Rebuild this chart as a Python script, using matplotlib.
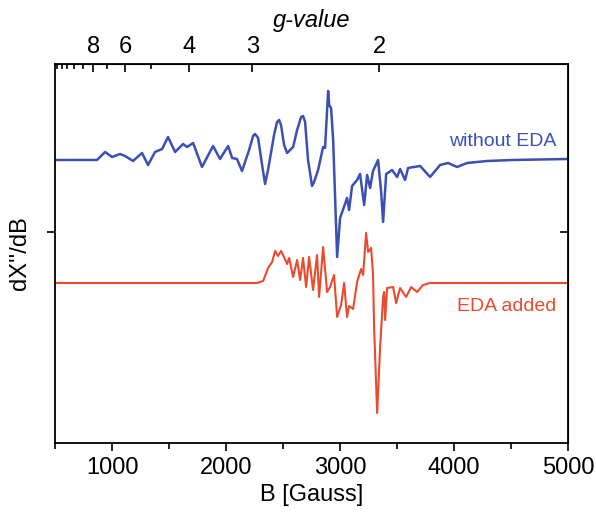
import numpy as np
import matplotlib
matplotlib.use("Agg")
import matplotlib.pyplot as plt
from matplotlib.ticker import FixedLocator, NullFormatter

plt.rcParams['font.family'] = ['Liberation Sans', 'DejaVu Sans']

# field values (Gauss) and signal (arb. units)
b_blue = [500, 868, 939, 1000, 1070, 1114, 1184, 1263, 1316, 1377, 1439, 1491,
          1553, 1623, 1658, 1711, 1789, 1886, 1947, 2018, 2053, 2096, 2140, 2202,
          2237, 2254, 2281, 2316, 2342, 2368, 2421, 2447, 2465, 2482, 2509, 2535,
          2588, 2623, 2658, 2675, 2693, 2719, 2754, 2772, 2807, 2851, 2868, 2895,
          2904, 2921, 2939, 2974, 3000, 3061, 3079, 3105, 3149, 3175, 3211, 3237,
          3263, 3289, 3333, 3360, 3377, 3404, 3456, 3500, 3526, 3570, 3596, 3702,
          3789, 3877, 3947, 4026, 4114, 4289, 4518, 5000]
s_blue = [0, 0, 8, 3, 6, 4, -1, 7, -5, 8, 11, 23,
          8, 16, 13, 17, -7, 14, 1, 14, 2, 1, -11, 10,
          24, 26, 22, -5, -24, -10, 25, 38, 40, 35, 15, 7,
          13, 30, 43, 44, 38, 0, -26, -22, -10, 13, 12, 69,
          55, 52, 20, -97, -58, -38, -50, -26, -20, -14, -45, -15,
          -28, -11, 0, -32, -62, -14, -10, -17, -9, -20, -8, -6,
          -17, -5, -3, -7, -3, -1, 0, 1]

b_red = [500, 2272, 2325, 2368, 2404, 2430, 2456, 2482, 2500, 2535, 2553, 2588,
         2623, 2649, 2675, 2702, 2728, 2763, 2798, 2816, 2851, 2886, 2912, 2947,
         2974, 3009, 3035, 3061, 3079, 3114, 3149, 3184, 3202, 3228, 3246, 3272,
         3289, 3298, 3325, 3351, 3377, 3386, 3395, 3412, 3465, 3491, 3526, 3579,
         3623, 3675, 3728, 3789, 5000]
s_red = [0, 0, 2, 15, 21, 32, 27, 32, 28, 19, 25, 6,
         23, 3, 25, -4, 26, -7, 28, -14, 36, -9, -4, 8,
         -34, -22, 0, -34, -23, -26, 1, 14, 8, 50, 31, 35,
         8, -44, -130, -64, -14, -9, -37, -5, -4, -20, -5, -14,
         -4, -9, -2, 0, 0]

offset_blue = 72
offset_red = -51

g_major = [8, 6, 4, 3, 2]
g_minor = [13, 12, 11, 10, 9, 7, 5]
hnu = 6690.0  # h*nu/muB in Gauss, g = hnu / B

blue = '#3c50b4'
red = '#ea4a2e'

fig = plt.figure(figsize=(5.96, 5.16), dpi=100)
ax = fig.add_axes([0.0923, 0.1415, 0.861, 0.7345])

ax.plot(b_blue, np.array(s_blue) + offset_blue, color=blue, lw=1.8,
        solid_joinstyle='round')
ax.plot(b_red, np.array(s_red) + offset_red, color=red, lw=1.5,
        solid_joinstyle='round')

ax.set_xlim(500, 5000)
ax.set_ylim(-211, 168)

ax.set_xticks([1000, 2000, 3000, 4000, 5000])
ax.set_xticks([500, 1500, 2500, 3500, 4500], minor=True)
ax.tick_params(axis='x', which='major', direction='out', length=6, width=1.2,
               labelsize=17, top=False, pad=4)
ax.tick_params(axis='x', which='minor', direction='out', length=4, width=1.2,
               top=False)
ax.set_yticks([0])
ax.set_yticklabels([])
ax.tick_params(axis='y', direction='out', length=6, width=1.2, right=False)

for sp in ax.spines.values():
    sp.set_linewidth(1.3)

ax.set_xlabel('B [Gauss]', fontsize=17, labelpad=4)
ax.set_ylabel("dX''/dB", fontsize=17, labelpad=8)

# right side ticks point inward
axr = ax.secondary_yaxis('right')
axr.set_yticks([0])
axr.set_yticklabels([])
axr.tick_params(direction='in', length=6, width=1.2)


def b2g(b):
    b = np.asarray(b, dtype=float)
    return hnu / np.where(b == 0, 1e-9, b)


def g2b(g):
    g = np.asarray(g, dtype=float)
    return hnu / np.where(g == 0, 1e-9, g)


axt = ax.secondary_xaxis('top', functions=(b2g, g2b))
axt.xaxis.set_major_locator(FixedLocator(g_major))
axt.xaxis.set_minor_locator(FixedLocator(g_minor))
axt.xaxis.set_minor_formatter(NullFormatter())
axt.set_xticklabels([str(g) for g in g_major])
axt.tick_params(which='major', direction='in', length=6, width=1.2,
                labelsize=17, pad=4)
axt.tick_params(which='minor', direction='in', length=3.5, width=1.2)
axt.set_xlabel('g-value', fontsize=17, style='italic', labelpad=7)

ax.text(4895, 90, 'without EDA', color=blue, fontsize=14, ha='right', va='center')
ax.text(4895, -75, 'EDA added', color=red, fontsize=14, ha='right', va='center')

fig.savefig('out.png', dpi=100)
